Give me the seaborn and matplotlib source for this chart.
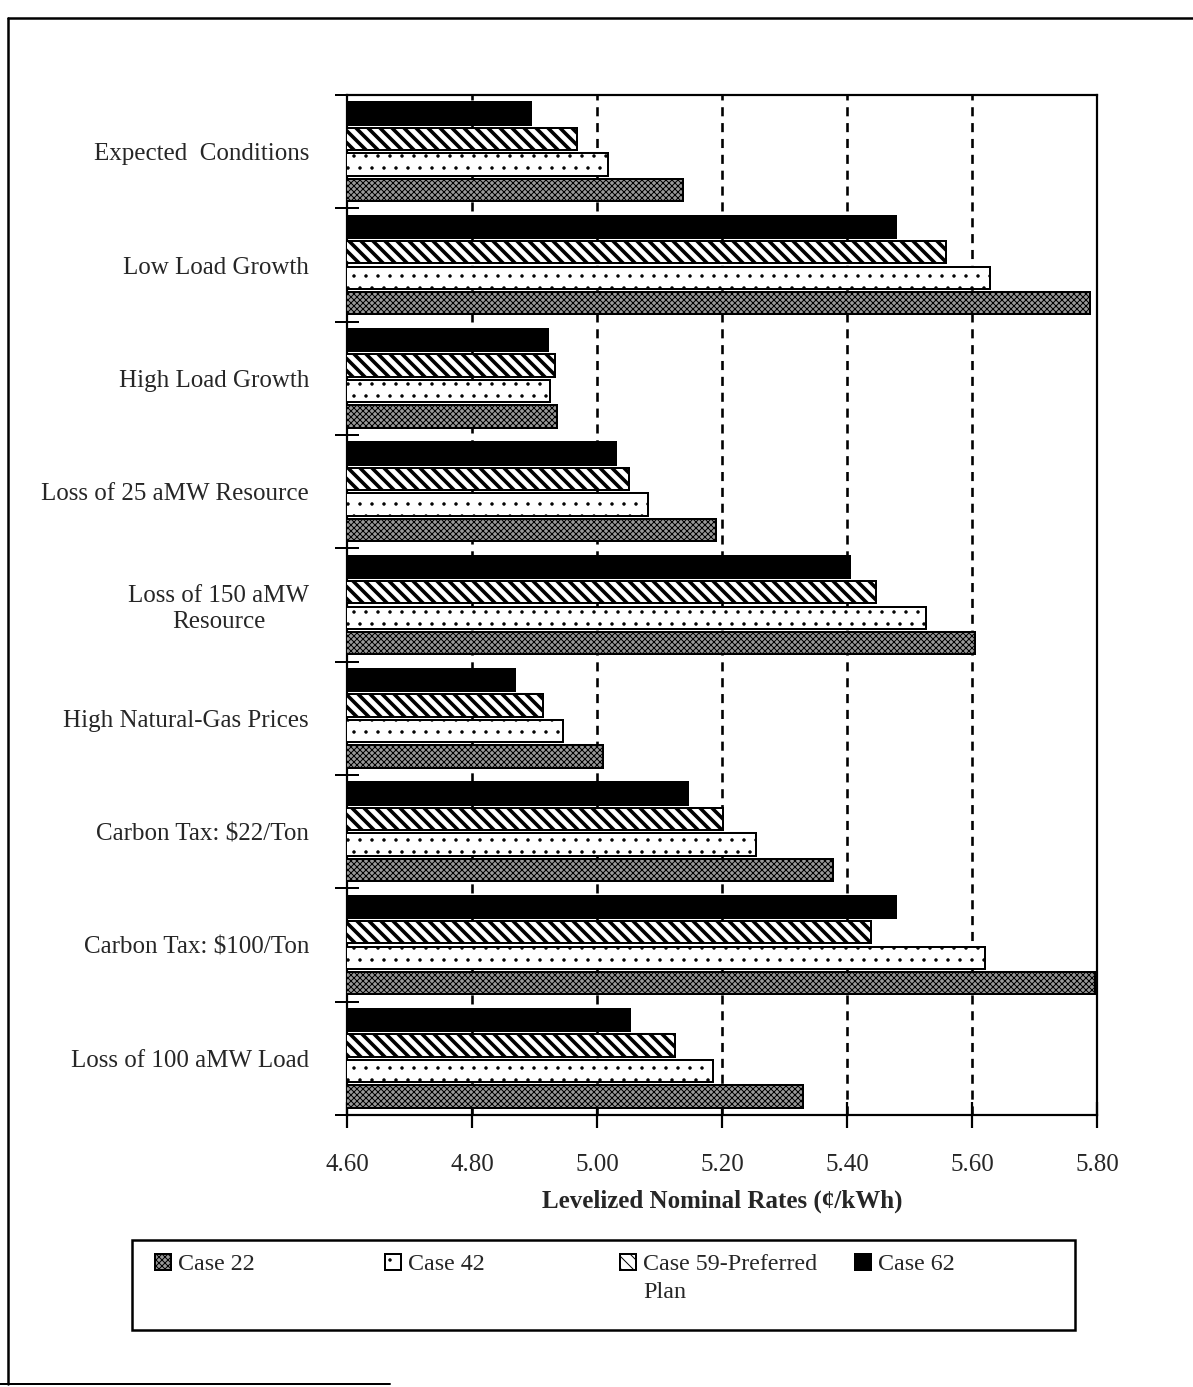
import matplotlib
matplotlib.use("Agg")
import matplotlib.pyplot as plt
import matplotlib as mpl
from matplotlib.patches import Patch, Rectangle
from matplotlib.lines import Line2D
import seaborn as sns
import pandas as pd
import numpy as np

scenarios = ["Expected  Conditions", "Low Load Growth", "High Load Growth",
             "Loss of 25 aMW Resource", "Loss of 150 aMW\nResource",
             "High Natural-Gas Prices", "Carbon Tax: $22/Ton",
             "Carbon Tax: $100/Ton", "Loss of 100 aMW Load"]
cases = ["Case 62", "Case 59-Preferred Plan", "Case 42", "Case 22"]
case62 = [4.894, 5.479, 4.922, 5.030, 5.404, 4.868, 5.146, 5.478, 5.052]
case59 = [4.968, 5.559, 4.932, 5.051, 5.446, 4.914, 5.202, 5.439, 5.125]
case42 = [5.018, 5.628, 4.925, 5.081, 5.526, 4.945, 5.255, 5.620, 5.186]
case22 = [5.138, 5.789, 4.936, 5.190, 5.604, 5.009, 5.378, 5.797, 5.330]
xticks = [4.60, 4.80, 5.00, 5.20, 5.40, 5.60, 5.80]
xlabel = "Levelized Nominal Rates (\u00a2/kWh)"
legend_labels = ["Case 22", "Case 42", "Case 59-Preferred", "Case 62"]
legend_extra = "Plan"

series = {"Case 62": case62, "Case 59-Preferred Plan": case59,
          "Case 42": case42, "Case 22": case22}
rows = []
for c in cases:
    for s, v in zip(scenarios, series[c]):
        rows.append({"scenario": s, "case": c, "value": v})
df = pd.DataFrame(rows)

sns.set_theme(style="white")
plt.rcParams['font.family'] = ['Liberation Serif', 'DejaVu Serif']
plt.rcParams['hatch.linewidth'] = 1.0

W, H = 1193, 1387
DPI = 72
fig = plt.figure(figsize=(W / DPI, H / DPI), dpi=DPI)
fig.patch.set_facecolor("white")

def fx(px):
    return px / W

def fy(py):
    return 1 - py / H

ax_l, ax_r, ax_t, ax_b = 347, 1097, 95, 1115
ax = fig.add_axes([fx(ax_l), fy(ax_b), fx(ax_r - ax_l), (ax_b - ax_t) / H])

styles = {
    "Case 62": dict(fc="black", hatch=None, hlw=1.0),
    "Case 59-Preferred Plan": dict(fc="white", hatch="\\\\", hlw=3.6),
    "Case 42": dict(fc="white", hatch=".", hlw=1.0),
    "Case 22": dict(fc="#999999", hatch="xxxx", hlw=1.0),
}
palette = {c: styles[c]["fc"] for c in cases}

sns.barplot(data=df, x="value", y="scenario", hue="case", order=scenarios,
            hue_order=cases, palette=palette, width=0.9, gap=0.12,
            edgecolor="black", linewidth=2, legend=False, ax=ax, zorder=3)

def style_patch(p, st):
    p.set_facecolor(st["fc"])
    p.set_edgecolor("black")
    if st["hatch"]:
        p.set_hatch(st["hatch"])
        if hasattr(p, "set_hatch_linewidth"):
            p.set_hatch_linewidth(st["hlw"])

for cont, c in zip(ax.containers, cases):
    for p in cont:
        style_patch(p, styles[c])

ax.set_xlim(4.60, 5.80)
ax.set_ylim(len(scenarios) - 0.5, -0.5)
ax.set_xticks(xticks)
ax.set_xticklabels([f"{t:.2f}" for t in xticks], fontsize=25)
ax.set_yticks(range(len(scenarios)))
ax.set_yticklabels(scenarios, fontsize=25, multialignment="center")
ax.set_yticks(np.arange(-0.5, len(scenarios), 1.0), minor=True)
ax.tick_params(axis="y", which="major", left=True, length=0, pad=38)
ax.tick_params(axis="y", which="minor", left=True, length=24, width=2,
               direction="inout", color="black")
ax.tick_params(axis="x", which="major", bottom=True, length=26, width=2.2,
               direction="inout", color="black", pad=26, labelsize=25)
ax.set_ylabel("")
ax.set_xlabel(xlabel, fontsize=25, fontweight="bold", labelpad=14)

for sp in ax.spines.values():
    sp.set_visible(True)
    sp.set_color("black")
    sp.set_linewidth(2.2)

for g in xticks[1:-1]:
    ax.axvline(g, color="black", linewidth=2.6, linestyle=(0, (3.5, 2.6)), zorder=1)

# legend box
lb_l, lb_r, lb_t, lb_b = 132, 1075, 1240, 1330
fig.patches.append(Rectangle((fx(lb_l), fy(lb_b)), fx(lb_r - lb_l), (lb_b - lb_t) / H,
                             transform=fig.transFigure, facecolor="white",
                             edgecolor="black", linewidth=2.5, zorder=0))
leg_cases = ["Case 22", "Case 42", "Case 59-Preferred Plan", "Case 62"]
leg_x = [155, 385, 620, 855]
for lx, c, lab in zip(leg_x, leg_cases, legend_labels):
    st = styles[c]
    h = Patch(facecolor=st["fc"], edgecolor="black", linewidth=2,
              hatch=("\\\\" if c == "Case 59-Preferred Plan" else st["hatch"]))
    leg = fig.legend(handles=[h], labels=[lab], loc="upper left",
                     bbox_to_anchor=(fx(lx), fy(1254)), frameon=False,
                     fontsize=24, handlelength=0.65, handleheight=0.65,
                     handletextpad=0.3, borderpad=0, borderaxespad=0)
    if c == "Case 59-Preferred Plan":
        fig.canvas.draw()
        bb = leg.get_texts()[0].get_window_extent()
        fig.text(bb.x0 / W, fy(1293), legend_extra, fontsize=24,
                 ha="left", va="center")

# outer frame of the page
fig.add_artist(Line2D([fx(8), fx(8)], [fy(18), fy(1384)], transform=fig.transFigure,
                      color="black", linewidth=2.5))
fig.add_artist(Line2D([fx(8), 1.0], [fy(18), fy(18)], transform=fig.transFigure,
                      color="black", linewidth=2.5))
fig.add_artist(Line2D([0.0, fx(390)], [fy(1384), fy(1384)], transform=fig.transFigure,
                      color="black", linewidth=2.0))

fig.savefig("out.png", dpi=DPI, facecolor="white")
